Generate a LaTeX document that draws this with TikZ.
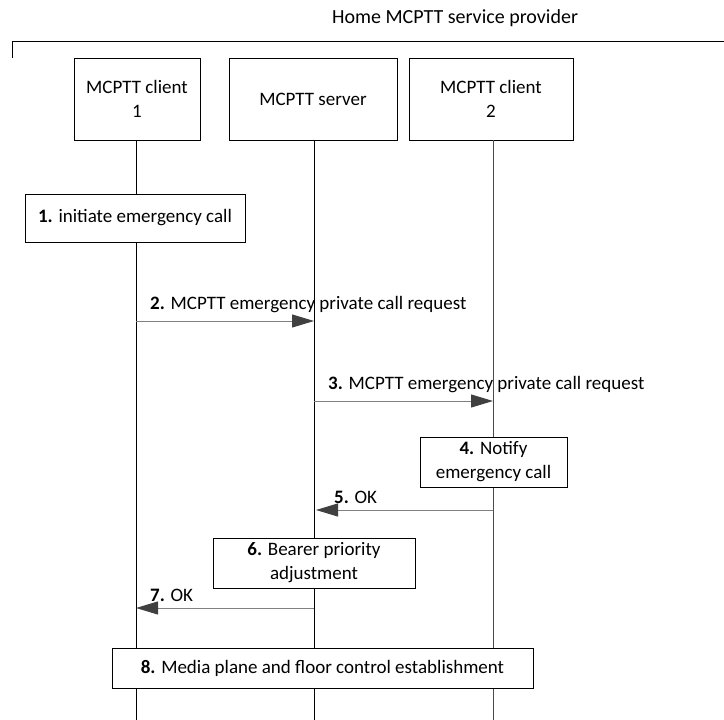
\documentclass[tikz,border=0pt]{standalone}
\usepackage{fontspec}
\setmainfont{Carlito}
\usetikzlibrary{arrows.meta}
\begin{document}
\begin{tikzpicture}[x=1pt,y=-1pt,
  every node/.style={font=\fontsize{19}{24}\selectfont, inner sep=0pt},
  entity/.style={draw, line width=0.9pt, align=center},
  actbox/.style={draw, line width=0.9pt, align=center},
  life/.style={line width=0.9pt},
  msg/.style={draw=black!50, line width=1pt, -{Triangle[length=22pt,width=13pt,fill=black!75,color=black!75]}},
  lbl/.style={anchor=south west}
]
\useasboundingbox (0,0) rectangle (724,720);
\node[font=\fontsize{20}{24}\selectfont] (title) at (455,18) {Home MCPTT service provider};
\coordinate (fl) at (12,58);
\coordinate (ftl) at (12,41);
\coordinate (ftr) at (724,41);
\draw[line width=0.9pt] (fl) -- (ftl) -- (ftr);

\node[entity, minimum width=126pt, minimum height=82pt] (c1) at (137,99) {MCPTT client\\1};
\node[entity, minimum width=168pt, minimum height=82pt] (srv) at (313,99) {MCPTT server};
\node[entity, minimum width=164pt, minimum height=82pt] (c2) at (491,99) {MCPTT client\\2};

\coordinate (c1b) at (136,720);
\coordinate (srvb) at (314,720);
\coordinate (c2b) at (493,720);
\draw[life] (136,140) -- (c1b);
\draw[life] (314,140) -- (srvb);
\draw[life, draw=black!70] (493,140) -- (c2b);

\node[actbox, fill=white, minimum width=220pt, minimum height=48pt] (s1) at (135,218) {\textbf{1.} initiate emergency call};

\coordinate (m2a) at (136,321);
\coordinate (m2b) at (314,321);
\draw[msg] (m2a) -- (m2b);
\node[lbl] (l2) at (150,313) {\textbf{2.} MCPTT emergency private call request};

\coordinate (m3a) at (314,401);
\coordinate (m3b) at (493,401);
\draw[msg] (m3a) -- (m3b);
\node[lbl] (l3) at (328,393) {\textbf{3.} MCPTT emergency private call request};

\node[actbox, fill=white, minimum width=147pt, minimum height=50pt] (s4) at (493.5,462) {\textbf{4.} Notify\\emergency call};

\coordinate (m5a) at (493,510);
\coordinate (m5b) at (316,510);
\draw[msg] (m5a) -- (m5b);
\node[lbl] (l5) at (334,504) {\textbf{5.} OK};

\node[actbox, fill=white, minimum width=202pt, minimum height=50pt] (s6) at (314,563) {\textbf{6.} Bearer priority\\adjustment};

\coordinate (m7a) at (314,608);
\coordinate (m7b) at (136,608);
\draw[msg] (m7a) -- (m7b);
\node[lbl] (l7) at (150,602) {\textbf{7.} OK};

\node[actbox, fill=white, minimum width=421pt, minimum height=40pt] (s8) at (322.5,668) {\textbf{8.} Media plane and floor control establishment};
\end{tikzpicture}
\end{document}
